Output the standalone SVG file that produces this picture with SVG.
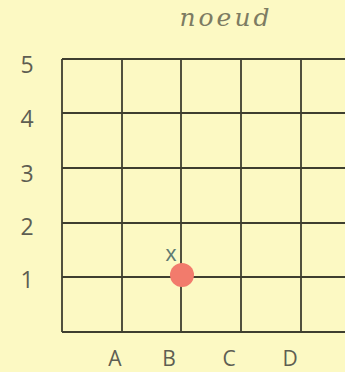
<svg xmlns="http://www.w3.org/2000/svg" width="345" height="372" viewBox="0 0 345 372">
<style>
.g{stroke:#3f3f30;stroke-width:1.8;fill:none}
.lab{font-family:"Open Sans","Liberation Sans",sans-serif;font-size:23px;fill:#5e5e52;text-anchor:middle}
</style>
<rect width="345" height="372" fill="#fcf9c3"/>
<text x="226" y="26" font-family="DejaVu Serif, serif" font-style="italic" font-size="25" letter-spacing="3" fill="#7d7c62" text-anchor="middle">noeud</text>
<g id="grid" class="g">
<path d="M62 59H345M62 113H345M62 168H345M62 223H345M62 277H345M62 332H345"/>
<path d="M62 59V332M122 59V332M181 59V332M241 59V332M301 59V332"/>
</g>
<g id="rows">
<text class="lab" x="27" y="73">5</text>
<text class="lab" x="27" y="127">4</text>
<text class="lab" x="27" y="182">3</text>
<text class="lab" x="27" y="235">2</text>
<text class="lab" x="27" y="288">1</text>
</g>
<g id="cols">
<text class="lab" x="115" y="366" style="font-size:21px">A</text>
<text class="lab" x="169" y="366" style="font-size:21px">B</text>
<text class="lab" x="229" y="366" style="font-size:21px">C</text>
<text class="lab" x="290" y="366" style="font-size:21px">D</text>
</g>
<g id="marker">
<text x="171" y="261" font-family="Liberation Sans, sans-serif" font-size="22" fill="#5f7a72" text-anchor="middle">x</text>
<circle cx="182" cy="275" r="12" fill="#f27b6c"/>
</g>
</svg>
